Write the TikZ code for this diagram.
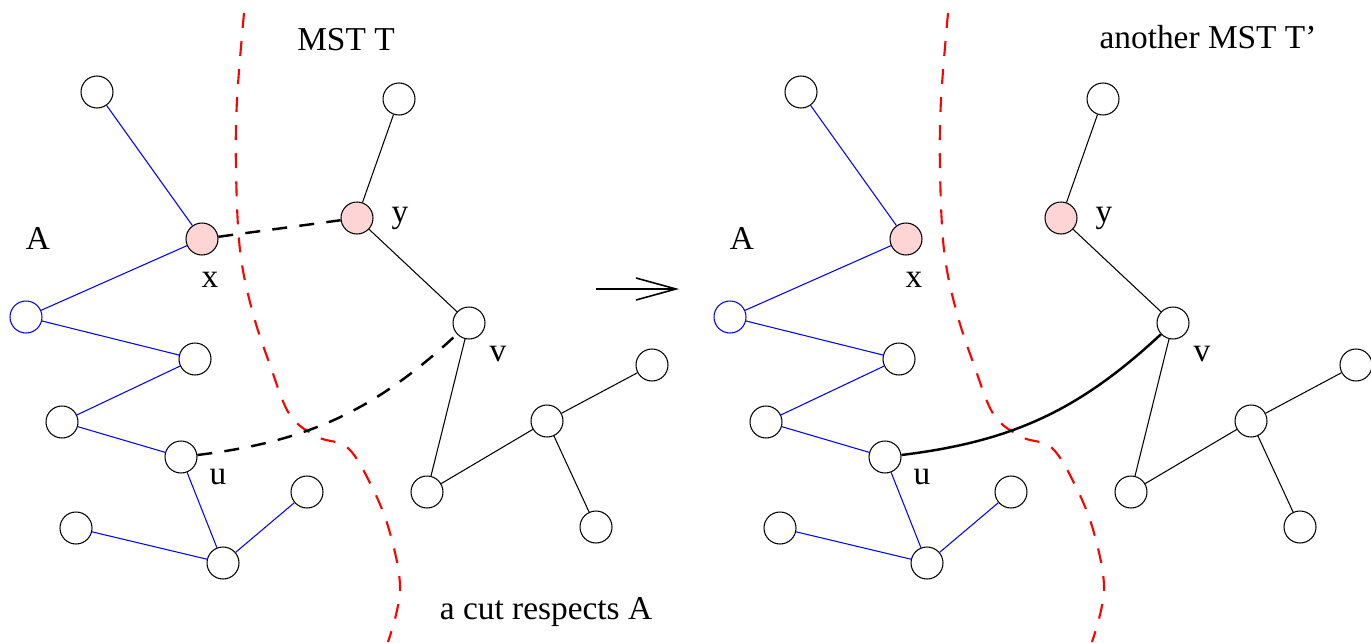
\documentclass[tikz,border=0pt]{standalone}
\usepackage{fontspec}
\setmainfont{Liberation Serif}
\usepackage{tikz}
\usetikzlibrary{arrows.meta}
\definecolor{hitpink}{RGB}{255,212,212}

\begin{document}
\begin{tikzpicture}[x=0.02cm,y=-0.02cm,
  vert/.style={circle,draw,line width=0.6pt,minimum size=0.64cm,inner sep=0pt},
  hitvert/.style={vert,fill=hitpink},
  rootvert/.style={vert,draw=blue},
  aedge/.style={blue,line width=0.6pt},
  tedge/.style={black,line width=0.6pt},
  crossedge/.style={line width=1.4pt,dash pattern=on 8.5pt off 7pt},
  cutline/.style={red,line width=1.2pt,dash pattern=on 8.5pt off 7.5pt},
  lbl/.style={font=\fontsize{19}{22}\selectfont,inner sep=0pt}]

  \useasboundingbox (0,0) rectangle (1371,642);

  % both trees, same layout
  \foreach \p/\dx in {L/0,R/704}{
    \begin{scope}[xshift=\dx*0.02cm, name prefix=\p-]
      % the cut
      \draw[cutline] plot[smooth,tension=0.6] coordinates {(244,13) (237,100) (236,170) (240,250) (252,310) (270,365) (290,415) (318,437) (348,448) (372,487) (390,533) (400,590) (388,642)};

      % nodes
      \node[vert] (t1) at (97,92) {};
      \node[hitvert] (x) at (202,239) {};
      \node[rootvert] (r) at (26,317) {};
      \node[vert] (n1) at (195,359) {};
      \node[vert] (n2) at (62,422) {};
      \node[vert] (u) at (181,457) {};
      \node[vert] (n3) at (76,528) {};
      \node[vert] (n4) at (223,563) {};
      \node[vert] (n5) at (307,492) {};
      \node[vert] (t2) at (399,99) {};
      \node[hitvert] (y) at (357,218) {};
      \node[vert] (v) at (469,323) {};
      \node[vert] (n6) at (427,492) {};
      \node[vert] (n7) at (547,421) {};
      \node[vert] (n8) at (652,365) {};
      \node[vert] (n9) at (596,527) {};

      % edges of A
      \draw[aedge] (t1) -- (x);
      \draw[aedge] (x) -- (r);
      \draw[aedge] (r) -- (n1);
      \draw[aedge] (n1) -- (n2);
      \draw[aedge] (n2) -- (u);
      \draw[aedge] (u) -- (n4);
      \draw[aedge] (n3) -- (n4);
      \draw[aedge] (n4) -- (n5);
      % other tree edges
      \draw[tedge] (t2) -- (y);
      \draw[tedge] (y) -- (v);
      \draw[tedge] (v) -- (n6);
      \draw[tedge] (n6) -- (n7);
      \draw[tedge] (n7) -- (n8);
      \draw[tedge] (n7) -- (n9);

      % labels
      \node[lbl] (lA) at (38,238) {A};
      \node[lbl] (lx) at (210,280) {x};
      \node[lbl] (ly) at (400,218) {y};
      \node[lbl] (lv) at (498,354) {v};
      \node[lbl] (lu) at (218,477) {u};
    \end{scope}
  }

  % tree T
  \draw[crossedge] (L-x) -- (L-y);
  \draw[crossedge] (L-u) to[bend right=18] (L-v);
  \node[lbl] (titleL) at (346,40) {MST T};

  % tree T'
  \draw[line width=1.4pt] (R-u) to[bend right=18] (R-v);
  \node[lbl] (titleR) at (1208,37) {another MST T’};

  \node[lbl] (cutlbl) at (546,612) {a cut respects A};

  % arrow
  \coordinate (arrA) at (596,289);
  \coordinate (arrB) at (679,289);
  \draw[line width=0.9pt,-{Straight Barb[length=0.8cm,width=0.44cm]}] (arrA) -- (arrB);

\end{tikzpicture}
\end{document}
